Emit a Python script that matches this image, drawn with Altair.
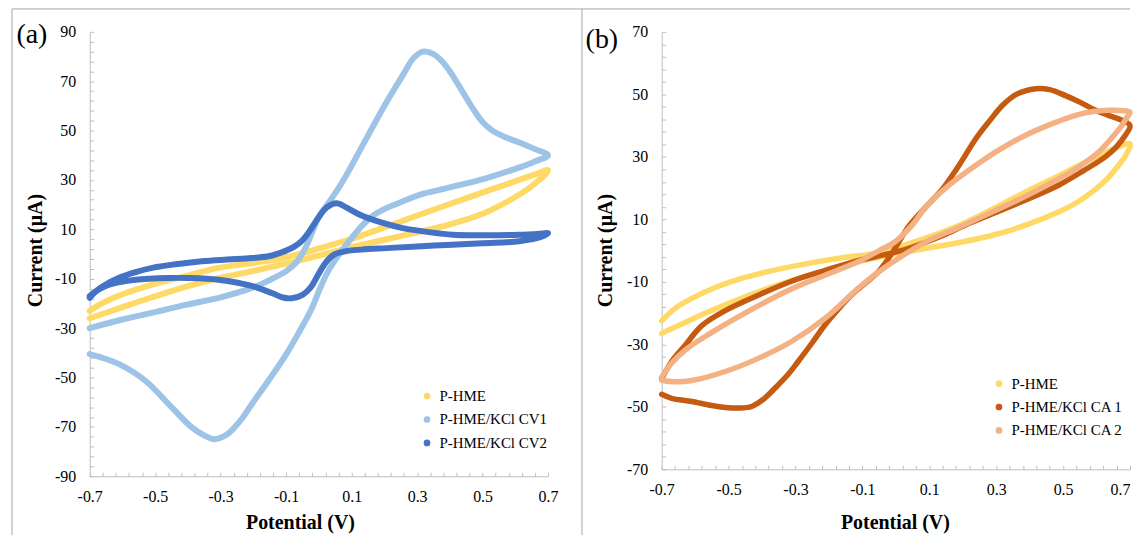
import altair as alt
import pandas as pd
import numpy as np

FONT = "Liberation Serif"
AXIS_GRAY = "#BFBFBF"
BORDER_GRAY = "#A6A6A6"

# ---- tick labels ----
x_ticks = [-0.7, -0.5, -0.3, -0.1, 0.1, 0.3, 0.5, 0.7]
y_ticks_a = [-90, -70, -50, -30, -10, 10, 30, 50, 70, 90]
y_ticks_b = [-70, -50, -30, -10, 10, 30, 50, 70]
x_minor = [round(v, 2) for v in np.arange(-0.7, 0.7001, 0.04)]
y_minor_a = list(range(-90, 91, 4))
y_minor_b = list(range(-70, 71, 4))

# ---- series names / colours ----
names_a = ["P-HME", "P-HME/KCl CV1", "P-HME/KCl CV2"]
colors_a = ["#FFD966", "#9DC3E6", "#4472C4"]
names_b = ["P-HME", "P-HME/KCl CA 1", "P-HME/KCl CA 2"]
colors_b = ["#FFD966", "#C55A11", "#F4B183"]

# ---- panel (a) curves: (potential V, current uA) ----
hme_a = [(-0.70, -23.0), (-0.66, -19.8), (-0.60, -16.3), (-0.509, -12.4), (-0.40, -8.7),
         (-0.307, -5.6), (-0.20, -3.6), (-0.104, -1.4), (0.003, 2.4), (0.10, 6.2),
         (0.20, 10.8), (0.307, 15.9), (0.40, 20.3), (0.51, 25.4), (0.60, 29.5),
         (0.66, 32.3), (0.70, 34.0), (0.69, 32.0), (0.672, 30.0), (0.64, 26.5),
         (0.59, 22.3), (0.50, 16.3), (0.40, 12.0), (0.30, 8.8), (0.20, 5.8),
         (0.10, 2.8), (0.0, -0.6), (-0.10, -3.9), (-0.20, -6.8), (-0.307, -9.8),
         (-0.40, -13.0), (-0.509, -17.5), (-0.60, -21.5), (-0.70, -26.0)]

cv1_a = [(-0.70, -40.5), (-0.65, -42.5), (-0.61, -44.6), (-0.53, -51.3), (-0.45, -62.0),
         (-0.39, -70.0), (-0.35, -73.5), (-0.32, -75.0), (-0.28, -73.0), (-0.24, -67.5),
         (-0.205, -60.8), (-0.15, -50.5), (-0.10, -40.6), (-0.06, -31.5), (-0.02, -21.5),
         (0.003, -14.0), (0.03, -6.5), (0.06, -0.5), (0.084, 3.8), (0.134, 11.8),
         (0.17, 16.0), (0.206, 18.6), (0.25, 21.0), (0.307, 24.0), (0.40, 27.0),
         (0.51, 30.7), (0.60, 34.5), (0.66, 37.5), (0.70, 40.0), (0.66, 42.5),
         (0.62, 44.8), (0.57, 47.3), (0.53, 50.0), (0.50, 53.5), (0.47, 59.0),
         (0.44, 65.5), (0.41, 72.0), (0.38, 77.5), (0.35, 81.0), (0.318, 82.0),
         (0.29, 79.5), (0.256, 72.4), (0.195, 58.9), (0.134, 44.1), (0.073, 29.5),
         (0.033, 21.4), (0.003, 15.8), (-0.02, 9.0), (-0.045, 1.5), (-0.07, -3.5),
         (-0.10, -6.9), (-0.15, -10.5), (-0.204, -13.7), (-0.30, -17.5), (-0.408, -20.6),
         (-0.50, -23.5), (-0.60, -26.5), (-0.70, -30.0)]

cv2_a = [(-0.70, -17.0), (-0.66, -13.0), (-0.612, -9.7), (-0.56, -7.3), (-0.509, -5.6),
         (-0.43, -4.0), (-0.357, -2.9), (-0.28, -2.2), (-0.205, -1.6), (-0.15, -0.8),
         (-0.104, 1.2), (-0.075, 3.0), (-0.053, 5.2), (-0.03, 9.0), (-0.003, 14.5),
         (0.025, 19.0), (0.054, 20.6), (0.085, 18.8), (0.125, 15.9), (0.19, 12.8),
         (0.256, 10.5), (0.33, 9.0), (0.408, 7.8), (0.50, 7.6), (0.612, 7.8),
         (0.68, 8.3), (0.70, 8.5), (0.68, 7.0), (0.612, 5.2), (0.50, 4.4),
         (0.408, 3.8), (0.30, 3.1), (0.206, 2.4), (0.13, 1.8), (0.084, 1.2),
         (0.05, 0.0), (0.033, -1.6), (0.015, -4.5), (-0.005, -9.0), (-0.025, -13.5),
         (-0.05, -16.5), (-0.083, -17.9), (-0.11, -17.6), (-0.14, -16.0), (-0.205, -12.9),
         (-0.307, -10.4), (-0.40, -9.7), (-0.46, -9.7), (-0.56, -10.4), (-0.62, -11.7),
         (-0.651, -12.9), (-0.68, -15.0), (-0.70, -17.7)]

# ---- panel (b) curves ----
hme_b = [(-0.70, -22.5), (-0.66, -18.5), (-0.61, -15.3), (-0.54, -11.8), (-0.461, -8.9),
         (-0.36, -6.2), (-0.262, -4.1), (-0.16, -2.3), (-0.063, -0.9), (0.0, 0.9),
         (0.10, 4.4), (0.19, 8.1), (0.29, 13.3), (0.388, 18.8), (0.49, 24.1),
         (0.587, 29.4), (0.65, 32.5), (0.70, 34.2), (0.69, 31.0), (0.666, 27.3),
         (0.63, 22.8), (0.587, 18.8), (0.54, 15.3), (0.488, 12.4), (0.39, 8.2),
         (0.289, 4.9), (0.19, 2.6), (0.09, 0.7), (0.006, -0.9), (-0.113, -3.6),
         (-0.262, -7.9), (-0.411, -13.2), (-0.56, -19.6), (-0.64, -23.5), (-0.70, -26.5)]

ca1_b = [(-0.70, -46.0), (-0.67, -47.3), (-0.61, -48.3), (-0.55, -49.6), (-0.51, -50.2),
         (-0.47, -50.4), (-0.431, -49.9), (-0.395, -47.5), (-0.361, -44.0), (-0.325, -40.0),
         (-0.292, -35.5), (-0.25, -29.5), (-0.212, -23.8), (-0.17, -18.5), (-0.133, -14.2),
         (-0.09, -10.3), (-0.054, -7.0), (-0.02, -2.2), (0.041, 8.1), (0.09, 14.0),
         (0.14, 19.8), (0.19, 27.5), (0.239, 35.8), (0.28, 41.5), (0.319, 46.5),
         (0.36, 50.0), (0.418, 51.8), (0.46, 51.5), (0.507, 49.6), (0.55, 47.5),
         (0.587, 45.4), (0.63, 43.5), (0.676, 41.7), (0.70, 40.0), (0.686, 36.9),
         (0.66, 33.3), (0.626, 30.0), (0.56, 25.5), (0.488, 21.0), (0.39, 16.3),
         (0.289, 11.8), (0.21, 8.3), (0.14, 4.8), (0.041, 0.8), (-0.02, -1.0),
         (-0.113, -3.2), (-0.21, -6.3), (-0.312, -9.8), (-0.41, -14.2), (-0.51, -19.2),
         (-0.58, -24.0), (-0.629, -30.2), (-0.67, -35.5), (-0.70, -41.0)]

ca2_b = [(-0.70, -40.5), (-0.67, -36.0), (-0.629, -31.8), (-0.57, -27.5), (-0.51, -23.6),
         (-0.41, -17.6), (-0.312, -12.3), (-0.21, -7.8), (-0.113, -3.6), (-0.05, 0.0),
         (0.0, 3.0), (0.05, 8.3), (0.09, 14.0), (0.16, 21.0), (0.239, 27.3),
         (0.31, 32.3), (0.388, 36.9), (0.46, 40.3), (0.537, 43.3), (0.59, 44.5),
         (0.637, 44.9), (0.67, 44.8), (0.70, 44.3), (0.69, 42.5), (0.676, 40.1),
         (0.645, 36.0), (0.607, 31.6), (0.55, 27.0), (0.488, 23.0), (0.39, 17.5),
         (0.289, 12.4), (0.19, 7.5), (0.09, 2.8), (0.0, -3.0), (-0.06, -7.5),
         (-0.113, -12.1), (-0.212, -21.7), (-0.312, -29.1), (-0.411, -34.5), (-0.51, -38.7),
         (-0.61, -41.6), (-0.66, -42.0), (-0.70, -41.5)]


def frame(names, curves):
    rows = []
    for name, pts in zip(names, curves):
        for i, (x, y) in enumerate(pts):
            rows.append({"series": name, "idx": i, "x": x, "y": y})
    return pd.DataFrame(rows)


def panel(names, colors, curves, y_dom, y_ticks, y_minor, w, h, line_w,
          tag, tag_xy, legend_xy, xtitle_xy, ytitle_xy, border, last_label_align):
    df = frame(names, curves)
    xs = alt.Scale(domain=[-0.7, 0.7], nice=False, zero=False)
    ys = alt.Scale(domain=y_dom, nice=False, zero=False)

    main_x = alt.Axis(orient="bottom", values=x_ticks, labelExpr="toString(datum.value)",
                      ticks=False, tickSize=0, grid=False, domainColor=AXIS_GRAY, domainWidth=1,
                      labelFont=FONT, labelFontSize=16, labelColor="#000000", labelPadding=12.5,
                      labelFlush=False, labelOverlap=False,
                      labelAlign=alt.expr(
                          "datum.value >= 0.69 ? '" + last_label_align + "' : 'center'"),
                      title="Potential (V)", titleFont=FONT, titleFontSize=20,
                      titleFontWeight="bold", titleColor="#000000",
                      titleX=xtitle_xy[0], titleY=xtitle_xy[1], titleBaseline="top",
                      titleAlign="center")
    main_y = alt.Axis(orient="left", values=y_ticks, labelExpr="toString(datum.value)",
                      ticks=False, tickSize=0, grid=False, domainColor=AXIS_GRAY, domainWidth=1,
                      labelFont=FONT, labelFontSize=16, labelColor="#000000", labelPadding=14,
                      labelOverlap=False,
                      title="Current (μA)", titleFont=FONT, titleFontSize=20,
                      titleFontWeight="bold", titleColor="#000000",
                      titleX=ytitle_xy[0], titleY=ytitle_xy[1], titleBaseline="middle",
                      titleAlign="center", titleAngle=270)
    minor_x = alt.Axis(orient="bottom", values=x_minor, offset=-4, tickSize=4,
                       tickColor=AXIS_GRAY, tickWidth=1, labels=False, domain=False,
                       grid=False, title=None)
    minor_y = alt.Axis(orient="left", values=y_minor, offset=-4, tickSize=4,
                       tickColor=AXIS_GRAY, tickWidth=1, labels=False, domain=False,
                       grid=False, title=None)

    one = alt.Data(values=[{"k": 0}])
    bx, btop, bbot, bright = border
    border_v = alt.Chart(one).mark_rule(color=BORDER_GRAY, strokeWidth=1).encode(
        x=alt.value(bx), y=alt.value(btop), y2=alt.value(bbot))
    border_h = alt.Chart(one).mark_rule(color=BORDER_GRAY, strokeWidth=1).encode(
        x=alt.value(bx), x2=alt.value(bright), y=alt.value(btop))

    layers = [border_v, border_h]
    for k, (name, col) in enumerate(zip(names, colors)):
        sub = df[df["series"] == name]
        layers.append(
            alt.Chart(sub).mark_line(color=col, strokeWidth=line_w, strokeCap="round",
                                     strokeJoin="round", interpolate="catmull-rom").encode(
                x=alt.X("x:Q", scale=xs, axis=main_x if k == 0 else None),
                y=alt.Y("y:Q", scale=ys, axis=main_y if k == 0 else None),
                order="idx:Q",
            )
        )
    legend = alt.Legend(orient="none", legendX=legend_xy[0], legendY=legend_xy[1], title=None,
                        padding=0, symbolType="circle", symbolSize=45, symbolOpacity=1,
                        symbolStrokeWidth=0, labelFont=FONT, labelFontSize=15,
                        labelColor="#000000", labelOffset=5, rowPadding=7.5)
    layers.append(
        alt.Chart(df).mark_point(filled=True, opacity=0, size=1).encode(
            x=alt.X("x:Q", scale=xs, axis=minor_x),
            y=alt.Y("y:Q", scale=ys, axis=minor_y),
            color=alt.Color("series:N", scale=alt.Scale(domain=names, range=colors),
                            legend=legend),
        )
    )
    layers.append(
        alt.Chart(one).mark_text(font=FONT, fontSize=28, color="#000000",
                                 align="center", baseline="middle").encode(
            x=alt.value(tag_xy[0]), y=alt.value(tag_xy[1]), text=alt.value(tag))
    )
    return alt.layer(*layers).resolve_axis(x="independent", y="independent").properties(
        width=w, height=h)


left = panel(names_a, colors_a, [hme_a, cv1_a, cv2_a], [-90, 90], y_ticks_a, y_minor_a,
             460, 446, 6, "(a)", (-58, 3), (331, 358), (211, 36), (-54.5, 219),
             (-78, -23, 505, 494), "center")
right = panel(names_b, colors_b, [hme_b, ca1_b, ca2_b], [-70, 70], y_ticks_b, y_minor_b,
              470, 439, 5.5, "(b)", (-60, 8), (331, 345.5), (234, 43), (-56.5, 219),
              (-80, -23, 505, 470), "right")

chart = alt.hconcat(left, right, spacing=114, bounds="flush").resolve_scale(
    color="independent").resolve_legend(color="independent").properties(
    padding={"left": 3, "top": -1, "right": -1, "bottom": 0}, background="white"
).configure_view(stroke=None)

chart.save("out.html", embed_options={"renderer": "svg", "actions": False})
